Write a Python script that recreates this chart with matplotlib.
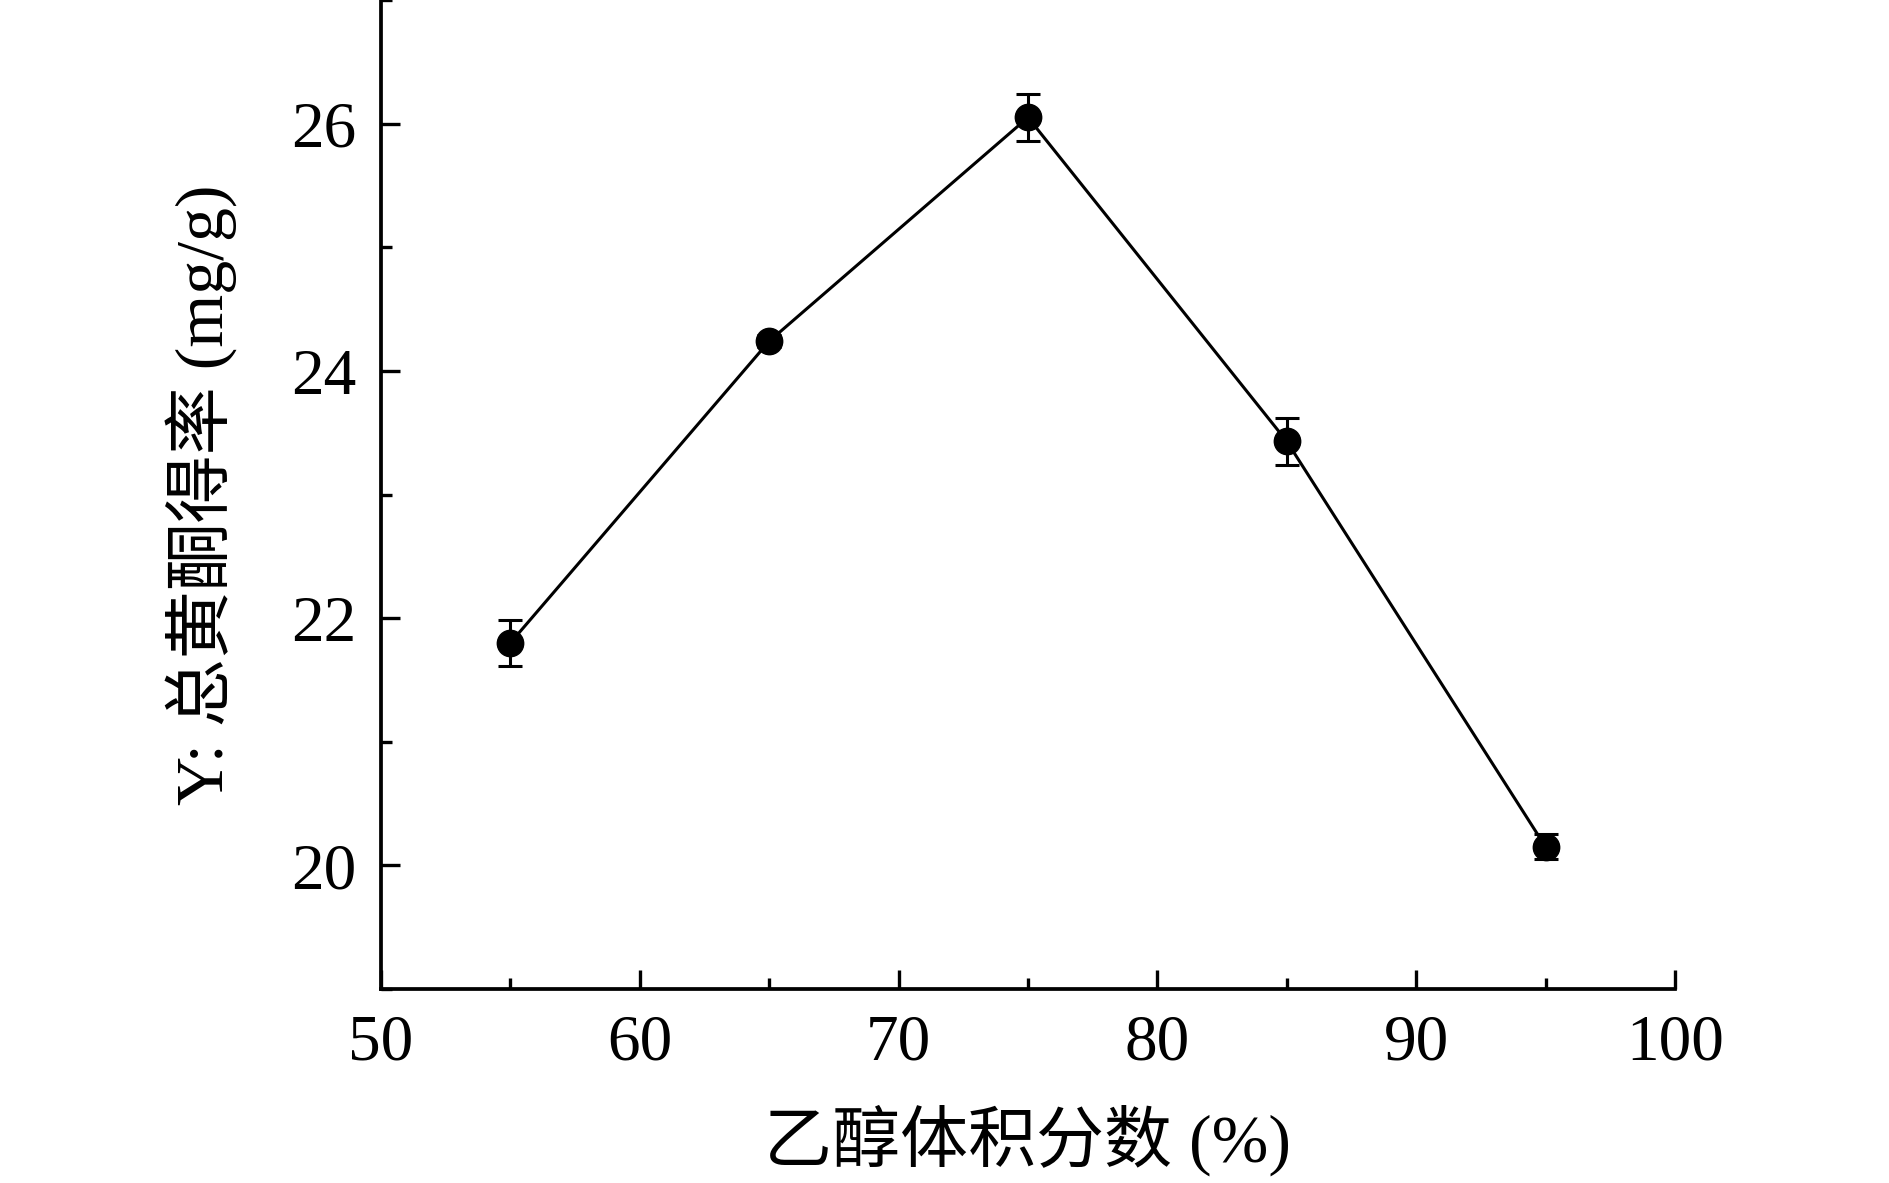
import matplotlib
matplotlib.use('Agg')
import matplotlib.pyplot as plt
from matplotlib.ticker import MultipleLocator

# Ethanol volume fraction (%) vs total flavonoid yield (mg/g)
ethanol = [55, 65, 75, 85, 95]
yield_mean = [21.80, 24.24, 26.05, 23.43, 20.15]
yield_err = [0.185, 0.05, 0.19, 0.19, 0.10]

x_ticks = [50, 60, 70, 80, 90, 100]
y_ticks = [20, 22, 24, 26]

fonts = ['Liberation Serif', 'Noto Sans CJK SC', 'DejaVu Sans']
plt.rcParams['font.family'] = fonts
plt.rcParams['axes.unicode_minus'] = False

fig = plt.figure(figsize=(18.9, 11.83), dpi=100)
ax = fig.add_axes([381 / 1890, 1 - 989 / 1183, (1675 - 381) / 1890, 989 / 1183])

ax.errorbar(ethanol, yield_mean, yerr=yield_err, color='black', linewidth=2.2,
            marker='o', markersize=19, elinewidth=2.2, capsize=8.5, capthick=2.2,
            zorder=3)

ax.set_xlim(50, 100)
ax.set_ylim(19, 27)
ax.set_xticks(x_ticks)
ax.set_yticks(y_ticks)
ax.xaxis.set_minor_locator(MultipleLocator(5))
ax.yaxis.set_minor_locator(MultipleLocator(1))

for side in ['top', 'right']:
    ax.spines[side].set_visible(False)
for side in ['left', 'bottom']:
    ax.spines[side].set_linewidth(2.7)

ax.tick_params(which='major', direction='in', length=14, width=2.4,
               labelsize=47, pad=18)
ax.tick_params(which='minor', direction='in', length=8, width=2.4)

ax.set_xlabel('乙醇体积分数 (%)', fontsize=49, family=fonts, labelpad=22)
ax.set_ylabel('Y: 总黄酮得率 (mg/g)', fontsize=49, family=fonts, labelpad=38)

fig.savefig('out.png', dpi=100)
